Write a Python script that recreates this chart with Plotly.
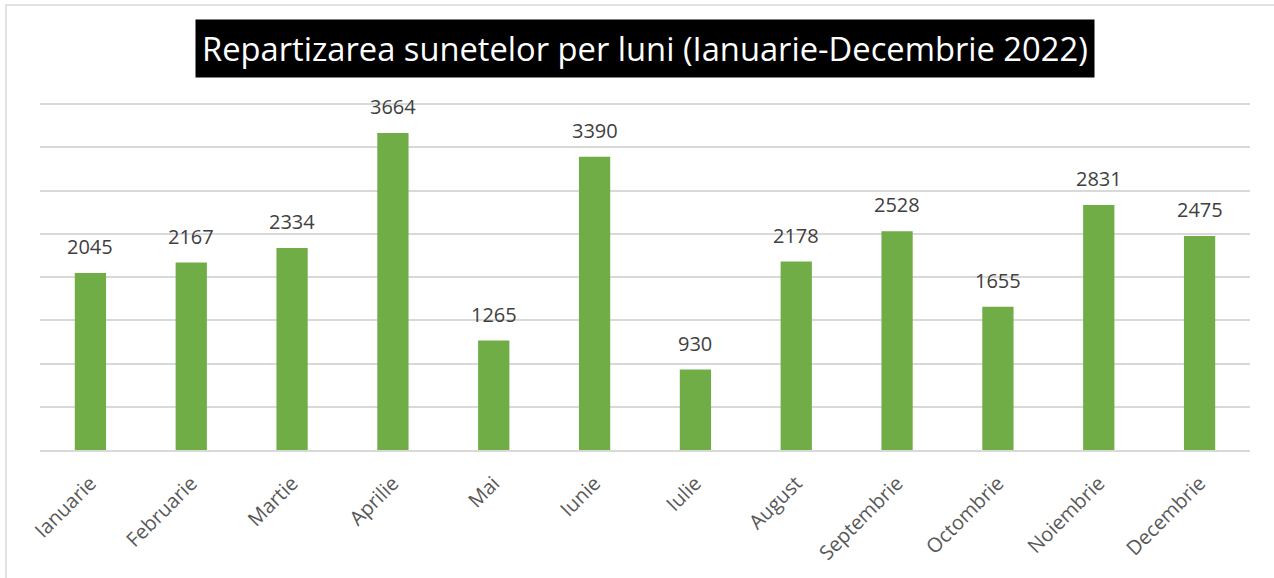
import plotly.graph_objects as go

months = ["Ianuarie", "Februarie", "Martie", "Aprilie", "Mai", "Iunie",
          "Iulie", "August", "Septembrie", "Octombrie", "Noiembrie", "Decembrie"]
values = [2045, 2167, 2334, 3664, 1265, 3390, 930, 2178, 2528, 1655, 2831, 2475]
title_text = "Repartizarea sunetelor per luni (Ianuarie-Decembrie 2022)"

W, H = 1274, 578
ml, mr, mt, mb = 40, 24, 100, 128
ph = H - mt - mb
pw = W - ml - mr

fig = go.Figure()
fig.add_trace(go.Bar(
    x=months, y=values,
    marker=dict(color="#70AD47", line=dict(width=0)),
    width=0.31,
    hoverinfo="x+y",
))

annotations = [dict(
    x=m, y=v, xref="x", yref="y", text=str(v), showarrow=False,
    xanchor="center", yanchor="bottom", yshift=11,
    font=dict(family="Open Sans", size=20, color="#404040"),
) for m, v in zip(months, values)]

annotations.append(dict(
    text=title_text, xref="paper", yref="paper",
    x=0.5, y=1 + (mt - 48) / ph, xanchor="center", yanchor="middle",
    showarrow=False, bgcolor="black",
    font=dict(family="Open Sans", size=32.7, color="white"),
    borderpad=6,
))

fig.update_layout(
    width=W, height=H,
    margin=dict(l=ml, r=mr, t=mt, b=mb),
    paper_bgcolor="white", plot_bgcolor="white",
    showlegend=False,
    xaxis=dict(tickangle=-45, tickfont=dict(family="Open Sans", size=20, color="#595959"),
               showline=True, linecolor="#d9d9d9", linewidth=1.5, ticks="", showgrid=False,
               ticklabelstandoff=12),
    yaxis=dict(range=[0, 4046.2], tickvals=[0, 500, 1000, 1500, 2000, 2500, 3000, 3500, 4000],
               showgrid=True, gridcolor="#d9d9d9", gridwidth=1.5,
               showticklabels=False, zeroline=False, ticks=""),
    annotations=annotations,
    shapes=[dict(type="rect", xref="paper", yref="paper",
                 x0=-(ml - 6) / pw, x1=1.2,
                 y0=-0.5, y1=1 + (mt - 5) / ph,
                 line=dict(color="#d9d9d9", width=1.5), layer="above")],
)

fig.write_html("out.html", config={"displayModeBar": False},
               post_script="document.body.style.margin='0';")
